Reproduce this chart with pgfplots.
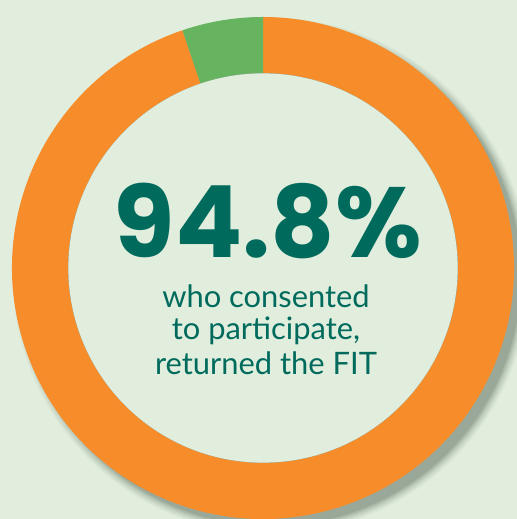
\documentclass[border=0pt]{standalone}
\usepackage{pgfplots}
\pgfplotsset{compat=1.18}
\usepackage{pgfplotstable}
\usepackage{fontspec}
\setmainfont{Lato}
\newfontfamily\numfont{Poppins}
\definecolor{bg}{HTML}{E1EEDD}
\definecolor{ringorange}{HTML}{F78D2A}
\definecolor{ringgreen}{HTML}{66B360}
\definecolor{teal}{HTML}{006B5D}
\definecolor{shadow}{HTML}{8A988A}
\pgfplotstableread{
label value
Returned 94.8
NotReturned 5.2
}\donutdata
\pgfplotstablegetelem{1}{value}\of\donutdata
\pgfmathsetmacro{\angB}{90+3.6*\pgfplotsretval}
\begin{document}
\begin{tikzpicture}
\begin{axis}[x=1bp,y=1bp,xmin=0,xmax=517,ymin=0,ymax=519,hide axis,clip mode=global]
\fill[bg] (axis cs:0,0) rectangle (axis cs:517,519);
\fill[shadow,opacity=0.10] (axis cs:271,243) circle[radius=258bp];
\fill[shadow,opacity=0.15] (axis cs:271,243) circle[radius=256bp];
\fill[shadow,opacity=0.20] (axis cs:271,243) circle[radius=254bp];
\fill[shadow,opacity=0.35] (axis cs:271,243) circle[radius=252bp];
\fill[shadow,opacity=0.50] (axis cs:271,243) circle[radius=250bp];
% orange segment
\fill[ringorange] (axis cs:263,251) ++(\angB:251bp) arc[start angle=\angB,end angle=450,radius=251bp]
  -- ++(270:56bp) arc[start angle=450,end angle=\angB,radius=195bp] -- cycle;
% green segment
\fill[ringgreen] (axis cs:263,251) ++(90:251bp) arc[start angle=90,end angle=\angB,radius=251bp]
  -- ++(\angB+180:56bp) arc[start angle=\angB,end angle=90,radius=195bp] -- cycle;
\fill[bg] (axis cs:263,251) circle[radius=194.6bp];
\node[anchor=base,inner sep=0pt,text depth=0pt,text=teal,font=\numfont\bfseries\fontsize{100}{100}\selectfont] at (axis cs:268,261) {94.8\%};
\node[anchor=base,inner sep=0pt,text height=22bp,text depth=7bp,text=teal,font=\fontsize{31}{31}\selectfont] at (axis cs:266,211) {who consented};
\node[anchor=base,inner sep=0pt,text height=22bp,text depth=7bp,text=teal,font=\fontsize{31}{31}\selectfont] at (axis cs:266,179) {to participate,};
\node[anchor=base,inner sep=0pt,text height=22bp,text depth=7bp,text=teal,font=\fontsize{31}{31}\selectfont] at (axis cs:266,144) {returned the FIT};
\end{axis}
\end{tikzpicture}
\end{document}
